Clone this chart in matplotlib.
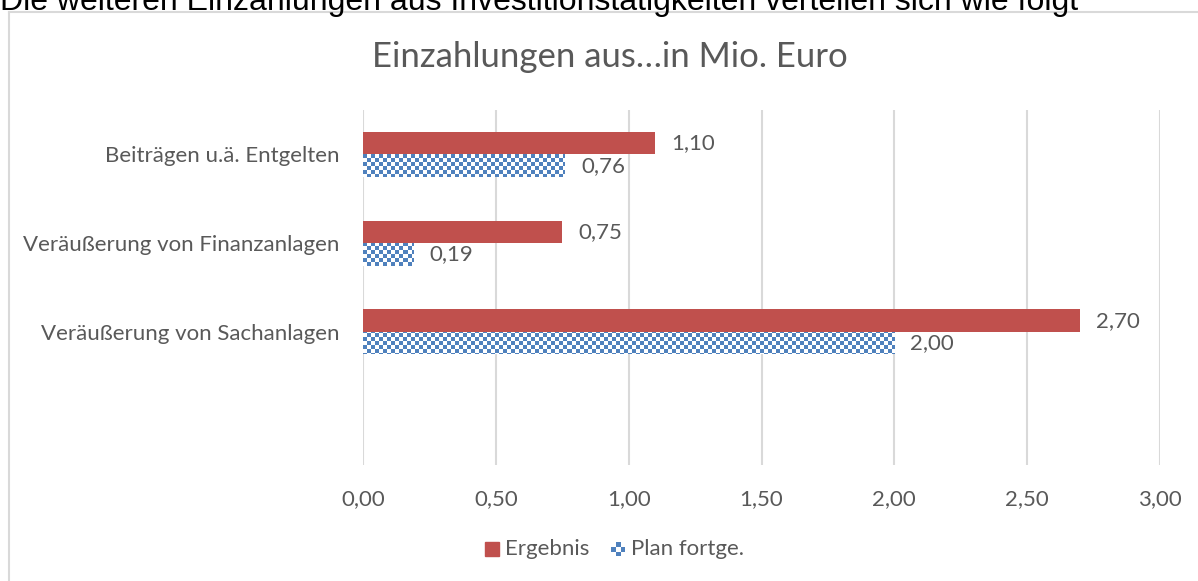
import matplotlib
matplotlib.use('Agg')
import matplotlib.pyplot as plt
from matplotlib.colors import ListedColormap
from matplotlib.lines import Line2D
from matplotlib.patches import Rectangle
import numpy as np

# Chart data
CATEGORIES = ['Beiträgen u.ä. Entgelten', 'Veräußerung von Finanzanlagen',
              'Veräußerung von Sachanlagen', '']
ERGEBNIS = [1.10, 0.75, 2.70]
PLAN = [0.76, 0.19, 2.00]
SERIES_NAMES = ['Ergebnis', 'Plan fortge.']
X_TICKS = [0.0, 0.5, 1.0, 1.5, 2.0, 2.5, 3.0]

TITLE = 'Einzahlungen aus…in Mio. Euro'
HEADER = 'Die weiteren Einzahlungen aus Investitionstätigkeiten verteilen sich wie folgt'

RED = '#C0504D'
BLUE = '#4F81BD'
GREY_TEXT = '#595959'
GRID = '#D9D9D9'

FONT = 'Lato'
FS = 16
W, H, DPI = 1198, 581, 100


def fmt(v):
    return ('%.2f' % v).replace('.', ',')


fig = plt.figure(figsize=(W / DPI, H / DPI), dpi=DPI)
ax = fig.add_axes([363 / W, 116 / H, 797 / W, 355 / H])

ypos = np.arange(len(CATEGORIES))
bar_h = 0.254
n = len(ERGEBNIS)

red_bars = ax.barh(ypos[:n] - bar_h / 2, ERGEBNIS, height=bar_h, color=RED, zorder=3)
blue_bars = ax.barh(ypos[:n] + bar_h / 2, PLAN, height=bar_h, color='none', zorder=3)

# checkerboard fill for the plan bars (cells of ~4 px)
cell = 4
nx = int(round(797 / cell))
ny = int(round(355 / cell))
checker = np.add.outer(np.arange(ny), np.arange(nx)) % 2
cmap = ListedColormap(['white', BLUE])
for bar in blue_bars:
    im = ax.imshow(checker, cmap=cmap, extent=(0, 3, len(CATEGORIES) - 0.5, -0.5),
                   aspect='auto', interpolation='nearest', zorder=3)
    im.set_clip_path(bar)

for bars, vals in ((red_bars, ERGEBNIS), (blue_bars, PLAN)):
    for bar, v in zip(bars, vals):
        ax.annotate(fmt(v), (v, bar.get_y() + bar.get_height() / 2), xytext=(11.5, 0),
                    textcoords='offset points', va='center', ha='left',
                    fontsize=FS, color=GREY_TEXT, family=FONT)

ax.set_xlim(0, 3)
ax.set_ylim(len(CATEGORIES) - 0.5, -0.5)
ax.set_xticks(X_TICKS)
ax.set_xticklabels([fmt(t) for t in X_TICKS])
ax.set_yticks(ypos)
ax.set_yticklabels(CATEGORIES)
ax.tick_params(axis='both', length=0, labelsize=FS, labelcolor=GREY_TEXT)
ax.tick_params(axis='x', pad=17)
ax.tick_params(axis='y', pad=17)
for lbl in ax.get_xticklabels() + ax.get_yticklabels():
    lbl.set_family(FONT)
for s in ax.spines.values():
    s.set_visible(False)
ax.grid(axis='x', color=GRID, linewidth=1.5, zorder=0)
ax.set_axisbelow(True)

# title and cut-off header text
fig.text(610 / W, 1 - 57 / H, TITLE, ha='center', va='center',
         fontsize=25, color=GREY_TEXT, family=FONT)
fig.text(0, 1 - 10 / H, HEADER, ha='left', va='baseline',
         fontsize=23, color='black', family='Liberation Sans')

# chart frame (left and top edges visible)
fig.add_artist(Line2D([8.5 / W, 8.5 / W], [0, 1 - 12 / H], color=GRID, lw=1.5))
fig.add_artist(Line2D([8.5 / W, 1], [1 - 12 / H, 1 - 12 / H], color=GRID, lw=1.5))

# legend
leg_y = 1 - 549 / H
sq = 14
fig.add_artist(Rectangle((485 / W, leg_y - sq / 2 / H), sq / W, sq / H, color=RED))
fig.text(505 / W, leg_y, SERIES_NAMES[0], ha='left', va='center',
         fontsize=FS, color=GREY_TEXT, family=FONT)
small = np.add.outer(np.arange(3), np.arange(3)) % 2
small = np.kron(small, np.ones((5, 5)))[:sq, :sq]
fig.figimage(small, xo=611, yo=int(H - 549 - sq / 2), cmap=cmap, zorder=5)
fig.text(631 / W, leg_y, SERIES_NAMES[1], ha='left', va='center',
         fontsize=FS, color=GREY_TEXT, family=FONT)

fig.savefig('out.png', dpi=DPI)
